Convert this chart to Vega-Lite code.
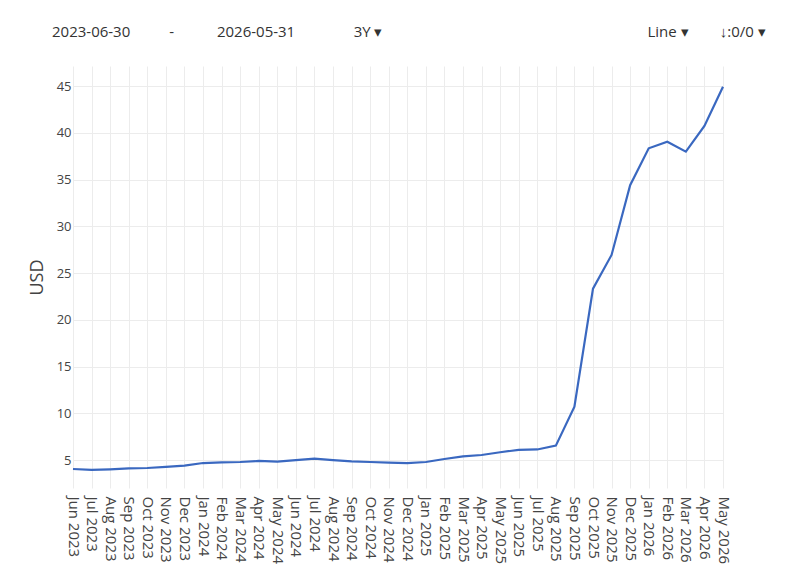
{
  "$schema": "https://vega.github.io/schema/vega-lite/v6.json",
  "autosize": {"type": "none"},
  "padding": {"left": 73, "top": 66, "right": 77, "bottom": 82},
  "width": 650,
  "height": 422,
  "background": "white",
  "title": {
    "text": "2023-06-30\u00a0\u00a0\u00a0\u00a0\u00a0\u00a0\u00a0\u00a0\u00a0\u00a0-\u00a0\u00a0\u00a0\u00a0\u00a0\u00a0\u00a0\u00a0\u00a0\u00a0\u00a02026-05-31\u00a0\u00a0\u00a0\u00a0\u00a0\u00a0\u00a0\u00a0\u00a0\u00a0\u00a0\u00a0\u00a0\u00a0\u00a03Y\u00a0\u25be\u00a0\u00a0\u00a0\u00a0\u00a0\u00a0\u00a0\u00a0\u00a0\u00a0\u00a0\u00a0\u00a0\u00a0\u00a0\u00a0\u00a0\u00a0\u00a0\u00a0\u00a0\u00a0\u00a0\u00a0\u00a0\u00a0\u00a0\u00a0\u00a0\u00a0\u00a0\u00a0\u00a0\u00a0\u00a0\u00a0\u00a0\u00a0\u00a0\u00a0\u00a0\u00a0\u00a0\u00a0\u00a0\u00a0\u00a0\u00a0\u00a0\u00a0\u00a0\u00a0\u00a0\u00a0\u00a0\u00a0\u00a0\u00a0\u00a0\u00a0\u00a0\u00a0\u00a0\u00a0\u00a0\u00a0\u00a0\u00a0Line\u00a0\u25be\u00a0\u00a0\u00a0\u00a0\u00a0\u00a0\u00a0\u00a0\u2193:0/0\u00a0\u25be",
    "anchor": "start",
    "frame": "group",
    "dx": -21,
    "offset": 26,
    "font": "Open Sans",
    "fontSize": 15,
    "fontWeight": "normal",
    "color": "#333333"
  },
  "data": {
    "values": [
      {"month": "Jun 2023", "value": 4.05},
      {"month": "Jul 2023", "value": 3.95},
      {"month": "Aug 2023", "value": 4.02},
      {"month": "Sep 2023", "value": 4.12},
      {"month": "Oct 2023", "value": 4.16},
      {"month": "Nov 2023", "value": 4.27},
      {"month": "Dec 2023", "value": 4.41},
      {"month": "Jan 2024", "value": 4.69},
      {"month": "Feb 2024", "value": 4.76},
      {"month": "Mar 2024", "value": 4.80},
      {"month": "Apr 2024", "value": 4.91},
      {"month": "May 2024", "value": 4.85},
      {"month": "Jun 2024", "value": 5.01},
      {"month": "Jul 2024", "value": 5.16},
      {"month": "Aug 2024", "value": 5.01},
      {"month": "Sep 2024", "value": 4.87},
      {"month": "Oct 2024", "value": 4.80},
      {"month": "Nov 2024", "value": 4.73},
      {"month": "Dec 2024", "value": 4.69},
      {"month": "Jan 2025", "value": 4.80},
      {"month": "Feb 2025", "value": 5.12},
      {"month": "Mar 2025", "value": 5.41},
      {"month": "Apr 2025", "value": 5.55},
      {"month": "May 2025", "value": 5.84},
      {"month": "Jun 2025", "value": 6.10},
      {"month": "Jul 2025", "value": 6.14},
      {"month": "Aug 2025", "value": 6.55},
      {"month": "Sep 2025", "value": 10.72},
      {"month": "Oct 2025", "value": 23.33},
      {"month": "Nov 2025", "value": 26.94},
      {"month": "Dec 2025", "value": 34.39},
      {"month": "Jan 2026", "value": 38.34},
      {"month": "Feb 2026", "value": 39.05},
      {"month": "Mar 2026", "value": 37.98},
      {"month": "Apr 2026", "value": 40.73},
      {"month": "May 2026", "value": 44.93}
    ]
  },
  "mark": {"type": "line", "color": "#3a68c0", "strokeWidth": 2.2, "interpolate": "linear"},
  "encoding": {
    "x": {
      "field": "month",
      "type": "ordinal",
      "sort": null,
      "scale": {"type": "point", "padding": 0},
      "axis": {
        "title": null,
        "labelAngle": 90,
        "labelFont": "Open Sans",
        "labelFontSize": 15,
        "labelColor": "#444444",
        "labelPadding": 8,
        "ticks": false,
        "domain": false,
        "grid": true,
        "gridColor": "#ececec",
        "gridWidth": 1
      }
    },
    "y": {
      "field": "value",
      "type": "quantitative",
      "scale": {"domain": [2.02, 47.14], "nice": false, "zero": false},
      "axis": {
        "title": "USD",
        "values": [5, 10, 15, 20, 25, 30, 35, 40, 45],
        "labelFont": "Open Sans",
        "labelFontSize": 13,
        "labelColor": "#444444",
        "labelPadding": 2,
        "ticks": false,
        "domain": false,
        "grid": true,
        "gridColor": "#ececec",
        "gridWidth": 1,
        "titleFont": "Open Sans",
        "titleFontSize": 18,
        "titleFontWeight": "normal",
        "titleColor": "#444444",
        "titlePadding": 10
      }
    }
  },
  "config": {"view": {"stroke": null}}
}
